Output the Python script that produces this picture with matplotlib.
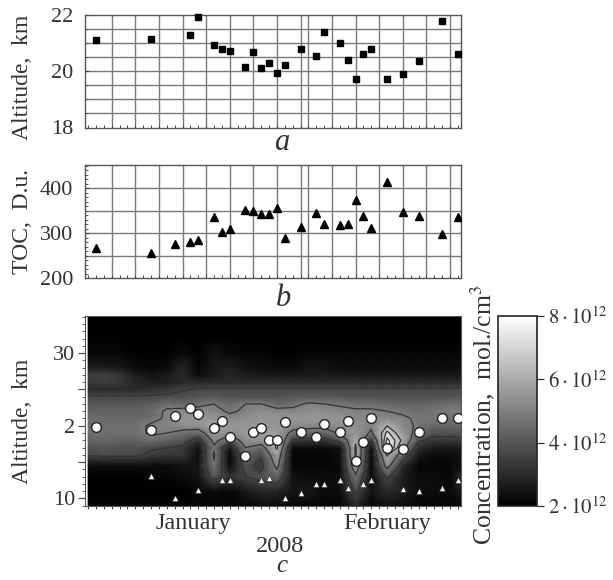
import numpy as np
import matplotlib
matplotlib.use("Agg")
import matplotlib.pyplot as plt

plt.rcParams["font.family"] = ["Liberation Serif", "DejaVu Serif"]
plt.rcParams["mathtext.fontset"] = "stix"

W, H = 613, 580
GRID = "#7a7a7a"
EDGE = "#555555"
TEXT = "#333333"

# --- data ---
alt_days = [1, 8, 13, 14, 16, 17, 18, 20, 21, 22, 23, 24, 25, 27, 29, 30, 32, 33, 34, 35, 36, 38, 40, 42, 45, 47]
alt_km = [21.12, 21.16, 21.29, 21.92, 20.93, 20.80, 20.73, 20.14, 20.70, 20.11, 20.31, 19.94, 20.22,
          20.78, 20.54, 21.40, 21.00, 20.39, 19.73, 20.63, 20.80, 19.72, 19.92, 20.38, 21.79, 20.60]

toc_days = [1, 8, 11, 13, 14, 16, 17, 18, 20, 21, 22, 23, 24, 25, 27, 29, 30, 32, 33, 34, 35, 36, 38, 40, 42, 45, 47]
toc_du = [267, 257, 277, 280, 286, 336, 303, 309, 352, 349, 344, 344, 356, 291, 315, 346, 321, 319, 322,
          375, 338, 313, 415, 347, 338, 299, 337]

peak_days = [1, 8, 11, 13, 14, 16, 17, 18, 20, 21, 22, 23, 24, 25, 27, 29, 30, 32, 33, 34, 35, 36, 38, 40, 42, 45, 47]
peak_km = [19.8, 19.45, 21.4, 22.4, 21.6, 19.7, 20.6, 18.5, 15.8, 19.2, 19.7, 18.0, 18.0, 20.5, 19.2,
           18.5, 20.2, 19.2, 20.7, 15.1, 17.7, 21.0, 17.0, 16.8, 19.2, 21.1, 21.1]

tropo_days = [8, 11, 14, 17, 18, 22, 23, 25, 27, 29, 30, 32, 33, 35, 36, 40, 42, 45, 47]
tropo_km = [13.1, 10.07, 11.1, 12.5, 12.5, 12.5, 12.87, 10.07, 10.8, 12.05, 12.05, 12.55, 11.5, 12.05,
            12.5, 11.3, 11.0, 11.5, 12.55]

grid_days = [3, 6, 9, 12, 15, 18, 21, 24, 27, 28, 31, 34, 37, 40, 43, 46]

conc_days = np.arange(0, 49, 2)
conc_alts = [9, 11, 13, 14.5, 16, 17, 18, 19, 20, 21, 22, 23, 24, 25, 26, 27, 28, 30, 32, 35]
# concentration, 10^12 mol/cm3: rows follow conc_alts, columns follow conc_days
conc = np.array([
    [2.15, 2.15, 2.15, 2.15, 2.15, 2.15, 2.15, 2.15, 2.15, 2.15, 2.15, 2.3, 2.3, 2.15, 2.15, 2.15, 2.15, 2.9, 2.15, 2.45, 2.3, 2.15, 2.15, 2.15, 2.15],
    [2.0, 2.0, 2.0, 2.0, 2.0, 2.0, 2.0, 2.15, 2.3, 2.15, 2.6, 2.9, 2.9, 2.45, 2.6, 2.3, 2.3, 3.75, 2.45, 3.0, 2.7, 2.3, 2.3, 2.3, 2.7],
    [2.05, 2.05, 2.05, 2.05, 2.15, 2.15, 2.3, 2.45, 4.05, 3.15, 3.6, 3.9, 4.3, 2.45, 2.3, 2.3, 2.3, 4.75, 2.3, 3.75, 2.7, 2.3, 2.3, 2.15, 3.3],
    [2.3, 2.3, 2.3, 2.3, 2.3, 2.3, 2.45, 2.45, 4.75, 2.3, 3.9, 3.3, 5.2, 2.15, 2.15, 2.15, 2.3, 5.75, 2.15, 5.35, 3.0, 2.15, 2.15, 2.15, 2.45],
    [3.7, 3.8, 3.8, 3.8, 3.4, 3.3, 3.3, 2.3, 5.05, 2.15, 4.45, 3.75, 5.75, 2.15, 2.15, 2.15, 2.3, 6.35, 2.15, 6.35, 4.2, 2.6, 2.3, 2.3, 2.45],
    [3.9, 4.05, 3.9, 3.9, 3.75, 3.6, 3.45, 2.45, 4.75, 2.6, 4.9, 4.45, 6.35, 2.3, 2.3, 2.3, 2.45, 6.35, 2.3, 8.0, 5.3, 3.0, 2.7, 2.6, 2.7],
    [4.3, 4.45, 4.3, 4.3, 4.6, 4.3, 4.05, 3.15, 5.2, 4.2, 5.35, 5.5, 6.35, 3.45, 3.3, 3.3, 3.9, 6.05, 3.45, 7.6, 6.0, 3.75, 3.3, 3.3, 3.45],
    [4.6, 4.6, 4.6, 4.6, 5.05, 4.9, 4.6, 4.45, 5.6, 5.35, 5.6, 5.6, 5.75, 4.6, 4.45, 4.3, 5.05, 5.6, 4.75, 7.0, 5.6, 4.45, 3.9, 3.9, 4.05],
    [4.6, 4.6, 4.6, 4.6, 5.05, 5.05, 5.35, 5.35, 5.9, 5.6, 5.5, 5.6, 5.5, 5.35, 5.2, 5.2, 5.35, 5.35, 5.05, 6.2, 5.2, 4.75, 4.45, 4.45, 4.45],
    [4.6, 4.45, 4.45, 4.45, 4.6, 5.05, 5.5, 5.6, 5.5, 5.2, 5.35, 5.5, 5.5, 5.5, 5.6, 5.5, 5.5, 5.2, 5.2, 5.2, 5.05, 4.75, 4.75, 4.6, 4.75],
    [4.3, 4.3, 4.3, 4.3, 4.45, 5.05, 5.2, 5.35, 5.2, 4.75, 5.05, 5.35, 5.2, 5.2, 5.35, 5.35, 5.2, 5.05, 5.05, 4.9, 4.75, 4.6, 4.75, 4.9, 4.9],
    [4.05, 4.05, 4.05, 4.05, 4.2, 4.6, 4.45, 4.6, 4.9, 4.45, 4.9, 4.9, 4.45, 4.6, 5.05, 4.9, 4.75, 4.6, 4.6, 4.45, 4.3, 4.3, 4.45, 4.6, 4.6],
    [3.7, 3.7, 3.7, 3.7, 3.7, 3.75, 3.85, 4.05, 4.05, 3.9, 3.9, 3.9, 3.9, 4.05, 4.05, 4.05, 4.05, 3.9, 3.9, 3.9, 3.9, 3.9, 3.9, 3.9, 4.05],
    [3.0, 3.0, 3.0, 3.0, 3.15, 3.3, 3.5, 3.7, 3.7, 3.7, 3.7, 3.7, 3.7, 3.7, 3.7, 3.7, 3.7, 3.7, 3.7, 3.7, 3.7, 3.7, 3.7, 3.7, 3.7],
    [3.3, 3.45, 3.3, 2.9, 2.7, 2.7, 3.0, 2.9, 3.0, 3.0, 3.0, 3.0, 3.0, 3.0, 3.0, 3.0, 3.0, 3.0, 3.0, 3.0, 3.0, 3.0, 3.0, 3.0, 3.0],
    [3.45, 3.55, 3.3, 2.7, 2.45, 2.6, 3.0, 2.3, 2.7, 2.9, 2.7, 2.6, 2.6, 2.6, 2.6, 2.7, 2.6, 2.6, 2.6, 2.6, 2.6, 2.6, 2.6, 2.6, 2.6],
    [2.7, 2.7, 2.6, 2.3, 2.15, 2.3, 2.9, 2.15, 2.6, 2.7, 2.45, 2.3, 2.3, 2.3, 2.45, 2.45, 2.3, 2.3, 2.3, 2.3, 2.3, 2.3, 2.3, 2.3, 2.3],
    [2.15, 2.15, 2.15, 2.05, 2.05, 2.05, 2.3, 2.05, 2.45, 2.2, 2.15, 2.15, 2.05, 2.05, 2.15, 2.15, 2.15, 2.15, 2.15, 2.15, 2.15, 2.15, 2.15, 2.15, 2.15],
    [2.05, 2.05, 2.05, 2.0, 2.0, 2.0, 2.05, 2.0, 2.05, 2.05, 2.0, 2.0, 2.0, 2.0, 2.0, 2.0, 2.0, 2.0, 2.0, 2.0, 2.0, 2.0, 2.0, 2.0, 2.0],
    [2.0, 2.0, 2.0, 2.0, 2.0, 2.0, 2.0, 2.0, 2.0, 2.0, 2.0, 2.0, 2.0, 2.0, 2.0, 2.0, 2.0, 2.0, 2.0, 2.0, 2.0, 2.0, 2.0, 2.0, 2.0],
])
contour_levels = [3.6, 4.9, 6.2, 6.8, 7.4]

XLIM = (-0.4, 47.4)


def px_axes(fig, x0, y0, x1, y1):
    # pixel box, y counted from the top of the picture
    return fig.add_axes([x0 / W, 1 - y1 / H, (x1 - x0) / W, (y1 - y0) / H])


def px_text(fig, x, y, s, **kw):
    kw.setdefault("color", TEXT)
    kw.setdefault("ha", "center")
    kw.setdefault("va", "center")
    fig.text(x / W, 1 - y / H, s, **kw)


def style_top_panel(ax, ylim, yticks, ygrid, yminor):
    ax.set_xlim(*XLIM)
    ax.set_ylim(*ylim)
    for d in grid_days:
        ax.axvline(d, color=GRID, lw=1.0, zorder=1)
    for v in ygrid:
        ax.axhline(v, color=GRID, lw=1.0, zorder=1)
    ax.set_xticks(range(0, 48))
    ax.set_xticklabels([])
    ax.tick_params(axis="x", direction="in", length=2, width=0.7, color="#444444")
    ax.set_yticks(yticks)
    ax.set_yticks(yminor, minor=True)
    ax.tick_params(axis="y", which="major", direction="in", length=3, width=0.8, labelsize=16,
                   pad=8.5, labelcolor=TEXT, color="#444444")
    ax.tick_params(axis="y", which="minor", direction="in", length=2, width=0.6, color="#444444")
    for spine in ax.spines.values():
        spine.set_color(EDGE)
        spine.set_linewidth(1.0)


fig = plt.figure(figsize=(W / 100, H / 100), dpi=100)

# --- a ---
ax = px_axes(fig, 85, 15, 461, 127.5)
style_top_panel(ax, (18, 22), [18, 20, 22], np.arange(18.5, 22, 0.5), np.arange(18, 22.01, 0.5))
ax.plot(alt_days, alt_km, ls="none", marker="s", ms=4.2, color="black", zorder=3, clip_on=False)

# --- b ---
ax = px_axes(fig, 85, 165.5, 461, 278.5)
style_top_panel(ax, (200, 451), [200, 300, 400], [250, 300, 350, 400], np.arange(200, 451, 10))
ax.plot(toc_days, toc_du, ls="none", marker="^", ms=5.2, color="black", zorder=3)

# --- c ---
ax = px_axes(fig, 85, 316, 461, 505.7)
mesh = ax.pcolormesh(conc_days, conc_alts, conc, shading="gouraud", cmap="gray", vmin=2, vmax=8,
                     rasterized=True)
ax.contour(conc_days, conc_alts, conc, levels=contour_levels, colors="#333333", linewidths=0.9)
ax.plot(peak_days, peak_km, ls="none", marker="o", ms=7, mfc="white", mec="#222222", mew=1.0, zorder=4)
ax.plot(tropo_days, tropo_km, ls="none", marker="^", ms=4.5, mfc="white", mec="#222222", mew=0.4, zorder=4)
ax.set_xlim(*XLIM)
ax.set_ylim(9, 35.1)
ax.set_xticks(range(0, 48))
ax.set_xticklabels([])
ax.tick_params(axis="x", direction="out", length=2.5, width=0.7, color="#444444")
ax.set_yticks([10, 15, 20, 25, 30])
ax.set_yticklabels(["10", "", "2", "", "30"])
ax.set_yticks(np.arange(9, 36, 1), minor=True)
ax.tick_params(axis="y", which="major", direction="out", length=5, width=0.8, labelsize=16, pad=2,
               labelcolor=TEXT, color="#444444")
ax.tick_params(axis="y", which="minor", direction="out", length=2.5, width=0.6, color="#444444")
for spine in ax.spines.values():
    spine.set_color(EDGE)

# --- colour bar ---
cax = px_axes(fig, 498, 316, 537, 506)
cb = fig.colorbar(mesh, cax=cax)
cb.set_ticks([2, 4, 6, 8])
cb.set_ticklabels([r"$2\cdot10^{12}$", r"$4\cdot10^{12}$", r"$6\cdot10^{12}$", r"$8\cdot10^{12}$"])
cb.ax.tick_params(labelsize=15, length=5, width=0.9, pad=3, labelcolor=TEXT, color="#333333")
cb.outline.set_edgecolor("#222222")
cb.outline.set_linewidth(1.2)

# --- labels ---
px_text(fig, 23, 77, "Altitude,  km", rotation=90, fontsize=17)
px_text(fig, 23, 222, "TOC,  D.u.", rotation=90, fontsize=17)
px_text(fig, 23, 421, "Altitude,  km", rotation=90, fontsize=17)
px_text(fig, 483, 415, r"Concentration,  mol./cm$^3$", rotation=90, fontsize=18.5)
px_text(fig, 193, 524, "January", fontsize=17.5)
px_text(fig, 387, 524, "February", fontsize=17.5)
px_text(fig, 280, 546, "2008", fontsize=17.5)
px_text(fig, 282, 143, "a", fontsize=22, style="italic")
px_text(fig, 283, 298, "b", fontsize=22, style="italic")
px_text(fig, 282, 566, "c", fontsize=18, style="italic")

fig.savefig("out.png", dpi=100)
